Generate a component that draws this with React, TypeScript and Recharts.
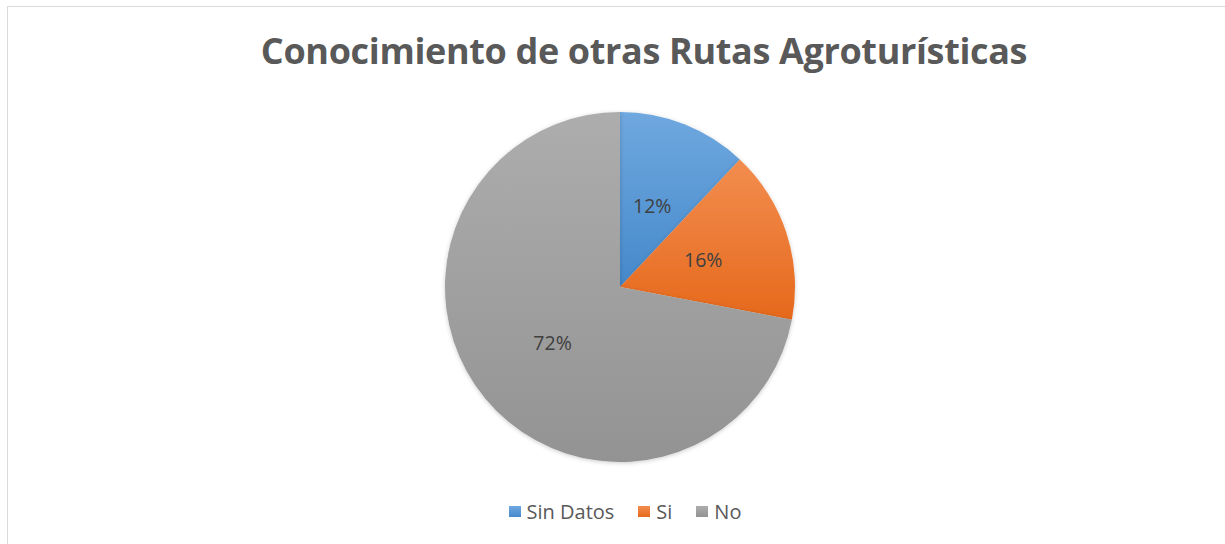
import React from "react"
import { PieChart, Pie, Cell, Legend } from "recharts"

const categories = ["Sin Datos", "Si", "No"]
const shares = [12, 16, 72]
const colorsTop = ["#6FA8DF", "#F28D4F", "#ADADAD"]
const colorsBottom = ["#4589CB", "#E6691C", "#939393"]

const data = categories.map((name, i) => ({ name, value: shares[i] }))

const RADIAN = Math.PI / 180

function renderLabel(props: any) {
  const { cx, cy, midAngle, outerRadius, value } = props
  const r = outerRadius * 0.5
  const x = cx + r * Math.cos(-midAngle * RADIAN)
  const y = cy + r * Math.sin(-midAngle * RADIAN)
  return (
    <text
      x={x}
      y={y}
      fill="#404040"
      textAnchor="middle"
      dominantBaseline="central"
      fontSize={19.5}
      fontFamily="'Open Sans', sans-serif"
    >
      {`${value}%`}
    </text>
  )
}

function LegendContent() {
  return (
    <div
      style={{
        display: "flex",
        justifyContent: "center",
        alignItems: "center",
        fontFamily: "'Open Sans', sans-serif",
        fontSize: 20,
        color: "#595959",
      }}
    >
      {categories.map((c, i) => (
        <div key={c} style={{ display: "flex", alignItems: "center", marginRight: i < categories.length - 1 ? 24 : 0 }}>
          <span
            style={{
              width: 12,
              height: 11,
              display: "inline-block",
              marginRight: 6,
              background: `linear-gradient(${colorsTop[i]}, ${colorsBottom[i]})`,
            }}
          />
          <span>{c}</span>
        </div>
      ))}
    </div>
  )
}

export default function App() {
  return (
    <div style={{ position: "absolute", left: 0, top: 0, width: 1225, height: 544, overflow: "hidden", background: "#fff" }}>
      <div
        style={{
          position: "absolute",
          left: 7,
          top: 6,
          width: 1300,
          height: 600,
          border: "1px solid #D9D9D9",
          boxSizing: "border-box",
        }}
      />
      <div
        style={{
          position: "absolute",
          left: 0,
          top: 33,
          width: 1288,
          textAlign: "center",
          fontFamily: "'Open Sans', sans-serif",
          fontWeight: 700,
          fontSize: 36,
          lineHeight: "36px",
          color: "#595959",
          letterSpacing: -0.35,
        }}
      >
        Conocimiento de otras Rutas Agroturísticas
      </div>
      <div style={{ position: "absolute", left: 0, top: 0 }}>
        <PieChart width={1225} height={544}>
          <defs>
            {categories.map((c, i) => (
              <linearGradient key={c} id={`grad${i}`} x1="0" y1="0" x2="0" y2="1">
                <stop offset="0%" stopColor={colorsTop[i]} />
                <stop offset="100%" stopColor={colorsBottom[i]} />
              </linearGradient>
            ))}
            <filter id="shadow" x="-10%" y="-10%" width="120%" height="120%">
              <feDropShadow dx="0" dy="1" stdDeviation="2" floodColor="#000" floodOpacity="0.2" />
            </filter>
          </defs>
          <Pie
            data={data}
            dataKey="value"
            nameKey="name"
            cx={615}
            cy={282}
            outerRadius={175}
            startAngle={90}
            endAngle={-270}
            stroke="none"
            label={renderLabel}
            labelLine={false}
            isAnimationActive={false}
            style={{ filter: "url(#shadow)" }}
          >
            {data.map((d, i) => (
              <Cell key={d.name} fill={`url(#grad${i})`} />
            ))}
          </Pie>
          <Legend
            verticalAlign="bottom"
            content={<LegendContent />}
            wrapperStyle={{ left: 0, width: 1250, bottom: 19 }}
          />
        </PieChart>
      </div>
    </div>
  )
}
